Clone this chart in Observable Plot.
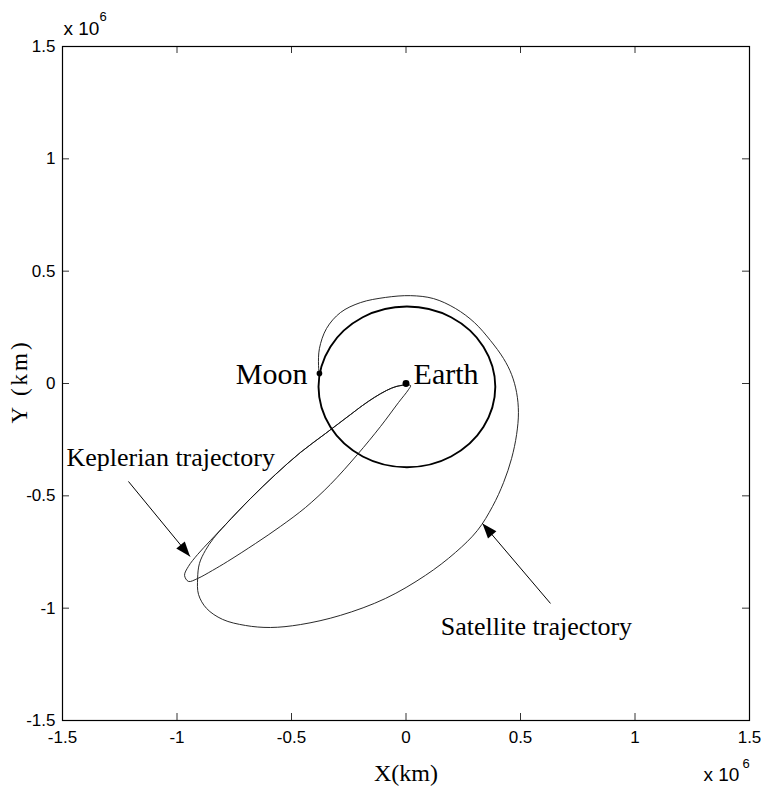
<!DOCTYPE html>
<html>
<head>
<meta charset="utf-8">
<script src="https://cdn.jsdelivr.net/npm/d3@7"></script>
<script src="https://cdn.jsdelivr.net/npm/@observablehq/plot@0.6"></script>
<style>
  html, body { margin: 0; padding: 0; background: #fff; }
  #chart svg { display: block; }
</style>
</head>
<body>
<div id="chart"></div>
<script>
// Axis ticks (units of 10^6 km)
const xTickValues = [-1.5, -1, -0.5, 0, 0.5, 1, 1.5];
const xTickLabels = ["-1.5", "-1", "-0.5", "0", "0.5", "1", "1.5"];
const yTickValues = [-1.5, -1, -0.5, 0, 0.5, 1, 1.5];
const yTickLabels = ["-1.5", "-1", "-0.5", "0", "0.5", "1", "1.5"];

// Moon orbit around the Earth (x, y in 10^6 km)
const moonOrbitX = [0.390, 0.338, 0.197, 0.004, -0.189, -0.330, -0.382, -0.330, -0.189, 0.004, 0.197, 0.338];
const moonOrbitY = [-0.015, 0.164, 0.295, 0.343, 0.295, 0.164, -0.015, -0.194, -0.325, -0.373, -0.325, -0.194];

// Keplerian transfer ellipse, perigee next to the Earth
const keplerX = [0.020, -0.041, -0.085, -0.138, -0.190, -0.242, -0.352, -0.461, -0.570, -0.679, -0.788, -0.854,
                 -0.910, -0.950, -0.967, -0.950, -0.910, -0.845, -0.779, -0.657, -0.548, -0.439, -0.330, -0.212,
                 -0.111, -0.033, 0.011];
const keplerY = [-0.009, -0.013, -0.031, -0.062, -0.098, -0.138, -0.223, -0.307, -0.405, -0.512, -0.628, -0.699,
                 -0.761, -0.814, -0.854, -0.881, -0.868, -0.832, -0.792, -0.712, -0.636, -0.552, -0.449, -0.316,
                 -0.191, -0.085, -0.027];

// Satellite trajectory from the Earth to lunar capture
const satelliteX = [0.002, -0.041, -0.085, -0.138, -0.190, -0.242, -0.352, -0.461, -0.570, -0.679, -0.788,
                    -0.841, -0.876, -0.902, -0.910, -0.906, -0.871, -0.801, -0.701, -0.592, -0.461, -0.286,
                    -0.090, 0.085, 0.216, 0.312, 0.378, 0.426, 0.461, 0.483, 0.491, 0.483, 0.461, 0.426, 0.369,
                    0.299, 0.216, 0.120, 0.020, -0.090, -0.199, -0.286, -0.347, -0.378, -0.382, -0.378];
const satelliteY = [-0.004, -0.013, -0.031, -0.062, -0.098, -0.138, -0.223, -0.307, -0.405, -0.512, -0.628,
                    -0.690, -0.743, -0.801, -0.868, -0.939, -1.001, -1.050, -1.077, -1.086, -1.073, -1.032,
                    -0.957, -0.854, -0.752, -0.654, -0.547, -0.441, -0.334, -0.227, -0.129, -0.040, 0.040, 0.111, 0.191,
                    0.271, 0.334, 0.378, 0.391, 0.383, 0.360, 0.316, 0.245, 0.156, 0.080, 0.036];

// Earth and Moon positions
const bodyX = [0, -0.378];
const bodyY = [0, 0.045];
const bodyR = [3, 2];

// Text annotations
const labelText = ["Moon", "Earth", "Keplerian trajectory", "Satellite trajectory"];
const labelX = [-0.430, 0.033, -1.483, 0.152];
const labelY = [0.042, 0.042, -0.330, -1.083];
const labelAnchor = ["end", "start", "start", "start"];
const labelSize = [30, 30, 26, 26];

// Pointer arrows: from (x1, y1) to the arrow tip (x2, y2)
const arrowX1 = [-1.212, 0.631];
const arrowY1 = [-0.436, -0.979];
const arrowX2 = [-0.943, 0.334];
const arrowY2 = [-0.770, -0.623];

// ---- layout ----
const W = 762, H = 787;
const mL = 62, mR = 13, mT = 46, mB = 67;
const plotW = W - mL - mR, plotH = H - mT - mB;
const kx = plotW / 3, ky = plotH / 3; // pixels per 10^6 km

const pts = (xs, ys) => xs.map((x, i) => ({x, y: ys[i]}));
const moonOrbit = pts(moonOrbitX, moonOrbitY);
const kepler = pts(keplerX, keplerY);
const satellite = pts(satelliteX, satelliteY);
const bodies = bodyX.map((x, i) => ({x, y: bodyY[i], r: bodyR[i]}));
const labels = labelText.map((t, i) => ({text: t, x: labelX[i], y: labelY[i], anchor: labelAnchor[i], size: labelSize[i]}));
const arrows = arrowX1.map((x1, i) => ({x1, y1: arrowY1[i], x2: arrowX2[i], y2: arrowY2[i]}));

const xFmt = new Map(xTickValues.map((v, i) => [v, xTickLabels[i]]));
const yFmt = new Map(yTickValues.map((v, i) => [v, yTickLabels[i]]));

// Filled arrowhead with its tip at the origin, pointing up
const arrowHead = {
  draw(context) {
    context.moveTo(0, 0);
    context.lineTo(-5.5, 15);
    context.lineTo(5.5, 15);
    context.closePath();
  }
};
const headAngle = d => {
  const dx = (d.x2 - d.x1) * kx, dy = -(d.y2 - d.y1) * ky;
  return Math.atan2(dx, -dy) * 180 / Math.PI;
};

const serif = "Liberation Serif, Times New Roman, serif";
const sans = "Liberation Sans, Arial, sans-serif";

const labelMark = anchor => Plot.text(labels.filter(d => d.anchor === anchor), {
  x: "x", y: "y", text: "text", textAnchor: anchor, fontSize: d => d.size, fontFamily: serif, fill: "#000"
});

const chart = Plot.plot({
  width: W,
  height: H,
  marginLeft: mL,
  marginRight: mR,
  marginTop: mT,
  marginBottom: mB,
  x: {domain: [-1.5, 1.5]},
  y: {domain: [-1.5, 1.5]},
  style: {fontFamily: sans, fontSize: "17px", background: "#fff", color: "#000", overflow: "visible"},
  marks: [
    // inward ticks on all four sides
    Plot.ruleX(xTickValues, {insetTop: plotH - 7, stroke: "#333"}),
    Plot.ruleX(xTickValues, {insetBottom: plotH - 7, stroke: "#333"}),
    Plot.ruleY(yTickValues, {insetRight: plotW - 7, stroke: "#333"}),
    Plot.ruleY(yTickValues, {insetLeft: plotW - 7, stroke: "#333"}),
    Plot.axisX({ticks: xTickValues, tickSize: 0, tickPadding: 10, tickFormat: d => xFmt.get(d), label: null, fontSize: 17}),
    Plot.axisY({ticks: yTickValues, tickSize: 0, tickPadding: 7, tickFormat: d => yFmt.get(d), label: null, fontSize: 17}),
    Plot.frame({stroke: "#000", strokeWidth: 1.2}),

    // orbits and trajectories
    Plot.line(moonOrbit, {x: "x", y: "y", curve: "catmull-rom-closed", stroke: "#000", strokeWidth: 1.9}),
    Plot.line(kepler, {x: "x", y: "y", curve: "catmull-rom-closed", stroke: "#111", strokeWidth: 0.9}),
    Plot.line(satellite, {x: "x", y: "y", curve: "catmull-rom", stroke: "#111", strokeWidth: 0.9}),
    Plot.dot(bodies, {x: "x", y: "y", r: "r", fill: "#000", stroke: "none"}),

    // annotations
    Plot.link(arrows, {x1: "x1", y1: "y1", x2: "x2", y2: "y2", stroke: "#000", strokeWidth: 1}),
    Plot.dot(arrows, {x: "x2", y: "y2", symbol: arrowHead, rotate: headAngle, fill: "#000", stroke: "none"}),
    labelMark("start"),
    labelMark("end"),

    // axis titles and exponent markers
    Plot.text(["X(km)"], {frameAnchor: "bottom", dy: 60, fontFamily: serif, fontSize: 24, fill: "#000"}),
    Plot.text(["Y (km)"], {frameAnchor: "left", textAnchor: "middle", dx: -43, dy: -2, rotate: -90, fontFamily: serif, fontSize: 23, fill: "#000"}),
    Plot.text(["x 10"], {frameAnchor: "top-left", textAnchor: "start", dx: 1, dy: -25, fontSize: 19, fill: "#000"}),
    Plot.text(["6"], {frameAnchor: "top-left", textAnchor: "start", dx: 37, dy: -35, fontSize: 13, fill: "#000"}),
    Plot.text(["x 10"], {frameAnchor: "bottom-right", textAnchor: "start", dx: -46, dy: 60, fontSize: 19, fill: "#000"}),
    Plot.text(["6"], {frameAnchor: "bottom-right", textAnchor: "start", dx: -7, dy: 47, fontSize: 13, fill: "#000"})
  ]
});

// The vertical axis title is set with wide letter spacing
d3.select(chart).selectAll("text")
  .filter(function() { return this.textContent === "Y (km)"; })
  .attr("letter-spacing", "3px");

document.getElementById("chart").appendChild(chart);
</script>
</body>
</html>
